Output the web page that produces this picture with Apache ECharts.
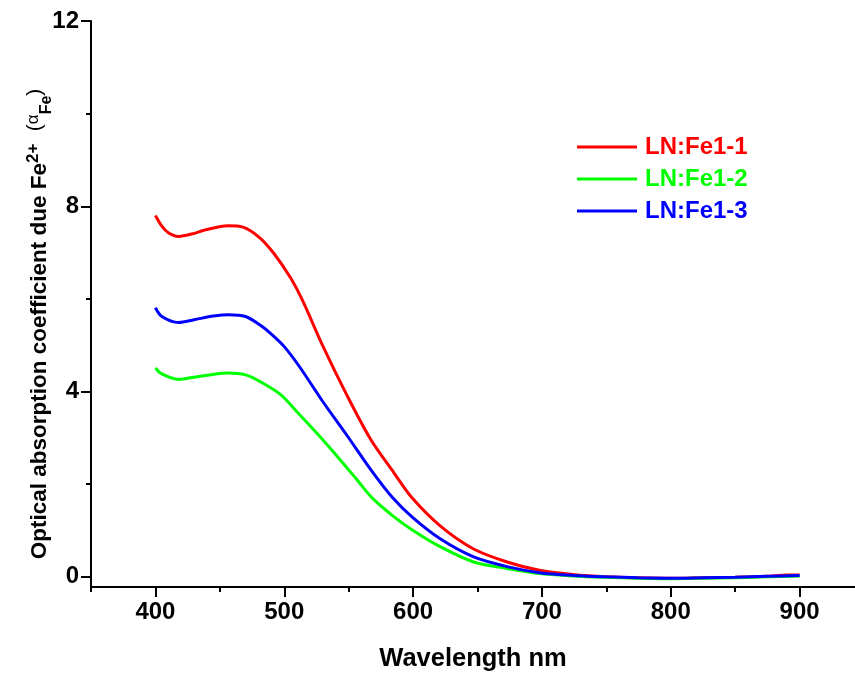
<!DOCTYPE html>
<html>
<head>
<meta charset="utf-8">
<title>Optical absorption of LN:Fe</title>
<script src="https://cdn.jsdelivr.net/npm/echarts@6/dist/echarts.min.js"></script>
<style>
  html, body { margin: 0; padding: 0; background: #fff; }
  #chart { width: 855px; height: 677px; }
</style>
</head>
<body>
<div id="chart"></div>
<script>
// Wavelength (nm) / absorption coefficient pairs for each sample
const fe11Wl  = [400, 405, 410, 418, 428, 440, 456, 468, 481, 492, 505, 514, 530, 549, 567, 585, 599, 621, 647, 673, 698, 724, 750, 775, 800, 825, 850, 875, 890, 900];
const fe11Val = [7.80, 7.57, 7.43, 7.35, 7.40, 7.50, 7.58, 7.55, 7.32, 6.98, 6.45, 5.98, 4.98, 3.90, 2.97, 2.25, 1.71, 1.10, 0.60, 0.32, 0.14, 0.05, 0.00, -0.02, -0.03, -0.02, -0.01, 0.01, 0.04, 0.04];

const fe12Wl  = [400, 405, 418, 430, 445, 456, 470, 481, 497, 510, 525, 543, 556, 568, 585, 600, 621, 647, 673, 698, 724, 750, 775, 800, 825, 850, 875, 900];
const fe12Val = [4.51, 4.38, 4.26, 4.31, 4.37, 4.40, 4.36, 4.22, 3.94, 3.56, 3.11, 2.54, 2.11, 1.71, 1.30, 1.00, 0.65, 0.32, 0.18, 0.07, 0.02, -0.01, -0.03, -0.04, -0.03, -0.02, 0.00, 0.02];

const fe13Wl  = [400, 405, 418, 430, 445, 457, 470, 481, 490, 500, 512, 530, 549, 567, 584, 600, 621, 647, 673, 698, 724, 750, 775, 800, 825, 850, 875, 900];
const fe13Val = [5.81, 5.62, 5.49, 5.55, 5.63, 5.66, 5.62, 5.44, 5.24, 4.97, 4.53, 3.78, 3.04, 2.32, 1.71, 1.27, 0.82, 0.43, 0.22, 0.09, 0.03, 0.00, -0.02, -0.03, -0.02, -0.01, 0.01, 0.03];

const seriesNames = ['LN:Fe1-1', 'LN:Fe1-2', 'LN:Fe1-3'];
const seriesColors = ['#ff0000', '#00ff00', '#0000ff'];

const xMajorTicks = [400, 500, 600, 700, 800, 900];
const xMinorTicks = [350, 450, 550, 650, 750, 850];
const yMajorTicks = [0, 4, 8, 12];
const yMinorTicks = [2, 6, 10];

const FONT = '"Liberation Sans", Arial, sans-serif';

function pairs(xs, ys) {
  return xs.map((x, i) => [x, ys[i]]);
}

const chart = echarts.init(document.getElementById('chart'), null, { renderer: 'canvas' });

const axisLineStyle = { color: '#000', width: 2 };
const tickLine = { color: '#000', width: 2 };

const option = {
  backgroundColor: '#ffffff',
  animation: false,
  color: seriesColors,
  grid: { left: 91, right: 0, top: 21, bottom: 89 },
  legend: {
    orient: 'vertical',
    left: 572,
    top: 130,
    icon: 'rect',
    itemWidth: 60,
    itemHeight: 3,
    itemGap: 8,
    textStyle: { fontFamily: FONT, fontWeight: 'bold', fontSize: 24, lineHeight: 24, padding: [0, 0, 0, 3] },
    data: seriesNames.map((n, i) => ({ name: n, textStyle: { color: seriesColors[i] } }))
  },
  xAxis: [
    {
      type: 'value', min: 350, max: 943,
      name: 'Wavelength nm', nameLocation: 'middle', nameGap: 59,
      nameTextStyle: { fontFamily: FONT, fontWeight: 'bold', fontSize: 25.5, color: '#000' },
      axisLine: { onZero: false, lineStyle: axisLineStyle },
      axisTick: { customValues: xMajorTicks, length: 10, lineStyle: tickLine },
      axisLabel: { customValues: xMajorTicks, margin: 13, fontFamily: FONT, fontWeight: 'bold', fontSize: 24, color: '#000' },
      splitLine: { show: false }
    },
    {
      type: 'value', min: 350, max: 943, position: 'bottom',
      axisLine: { show: false, onZero: false },
      axisTick: { customValues: xMinorTicks, length: 5, lineStyle: tickLine },
      axisLabel: { show: false },
      splitLine: { show: false }
    }
  ],
  yAxis: [
    {
      type: 'value', min: -0.22, max: 12,
      axisLine: { show: true, onZero: false, lineStyle: axisLineStyle },
      axisTick: { customValues: yMajorTicks, length: 10, lineStyle: tickLine },
      axisLabel: { customValues: yMajorTicks, margin: 12, fontFamily: FONT, fontWeight: 'bold', fontSize: 24, color: '#000' },
      splitLine: { show: false }
    },
    {
      type: 'value', min: -0.22, max: 12, position: 'left',
      axisLine: { show: false, onZero: false },
      axisTick: { show: true, customValues: yMinorTicks, length: 5, lineStyle: tickLine },
      axisLabel: { show: false },
      splitLine: { show: false }
    }
  ],
  graphic: [
    {
      type: 'text',
      x: 40,
      y: 324,
      rotation: Math.PI / 2,
      style: {
        text: '{m|Optical absorption coefficient due Fe}{sup|2+}{m|  }{p|(}{a|α}{sub|Fe}{p|)}',
        align: 'center',
        verticalAlign: 'middle',
        fill: '#000',
        rich: {
          m: { fontFamily: FONT, fontWeight: 'bold', fontSize: 22.5, lineHeight: 30, fill: '#000' },
          sup: { fontFamily: FONT, fontWeight: 'bold', fontSize: 17, lineHeight: 16, verticalAlign: 'top', fill: '#000' },
          p: { fontFamily: FONT, fontWeight: 'normal', fontSize: 21, lineHeight: 26, verticalAlign: 'top', fill: '#000' },
          a: { fontFamily: FONT, fontWeight: 'normal', fontSize: 17, lineHeight: 18, verticalAlign: 'top', fill: '#000' },
          sub: { fontFamily: FONT, fontWeight: 'bold', fontSize: 16, lineHeight: 26, verticalAlign: 'bottom', fill: '#000' }
        }
      }
    }
  ],
  series: [
    { name: seriesNames[0], type: 'line', data: pairs(fe11Wl, fe11Val) },
    { name: seriesNames[1], type: 'line', data: pairs(fe12Wl, fe12Val) },
    { name: seriesNames[2], type: 'line', data: pairs(fe13Wl, fe13Val) }
  ].map((s, i) => Object.assign(s, {
    xAxisIndex: 0, yAxisIndex: 0,
    smooth: 0.3,
    symbol: 'none',
    lineStyle: { width: 3, color: seriesColors[i] },
    itemStyle: { color: seriesColors[i] }
  }))
};

chart.setOption(option);
</script>
</body>
</html>
